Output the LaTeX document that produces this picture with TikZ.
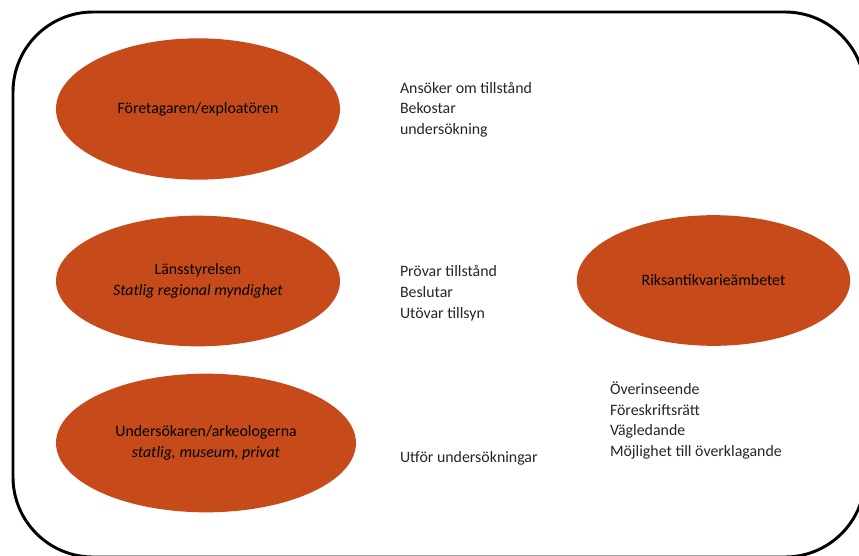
\documentclass[tikz,border=0pt]{standalone}
\usepackage{fontspec}
\setmainfont{Carlito}
\usetikzlibrary{shapes.geometric}
\definecolor{nrust}{RGB}{199, 75, 26}

\begin{document}
\begin{tikzpicture}[x=0.75pt,y=-0.75pt]
    \tikzstyle{every node}=[inner sep=0,outer sep=0,font=\fontsize{11.9}{15.5}\selectfont]
    \tikzstyle{actor}=[ellipse,fill=nrust,text=black,align=center]
    \tikzstyle{duty}=[anchor=west,align=left,text=black!85]
    \useasboundingbox (0,0) rectangle (859,556);
    \clip (0,0) rectangle (859,556);
    \draw [line width=2.2pt, rounded corners=60pt] (13,12) rectangle (865,557);

    \node[actor, minimum width=213pt, minimum height=106pt] (foretag) at (198,109) {F\"oretagaren/exploat\"oren};
    \node[actor, minimum width=213pt, minimum height=98pt] (lst) at (198,281) {L\"ansstyrelsen\\\textit{Statlig regional myndighet}};
    \node[actor, minimum width=225pt, minimum height=104pt] (arkeo) at (206,443) {Unders\"okaren/arkeologerna\\\textit{statlig, museum, privat}};
    \node[actor, minimum width=205pt, minimum height=98pt] (raa) at (713.5,280.5) {Riksantikvarie\"ambetet};

    \node[duty] (t1) at (400,109.5) {Ans\"oker om tillst\aa nd\\Bekostar\\unders\"okning};
    \node[duty] (t2) at (400,293) {Pr\"ovar tillst\aa nd\\Beslutar\\Ut\"ovar tillsyn};
    \node[duty] (t3) at (400,458) {Utf\"or unders\"okningar};
    \node[duty] (t4) at (610,420.5) {\"Overinseende\\F\"oreskriftsr\"att\\V\"agledande\\M\"ojlighet till \"overklagande};
\end{tikzpicture}
\end{document}
